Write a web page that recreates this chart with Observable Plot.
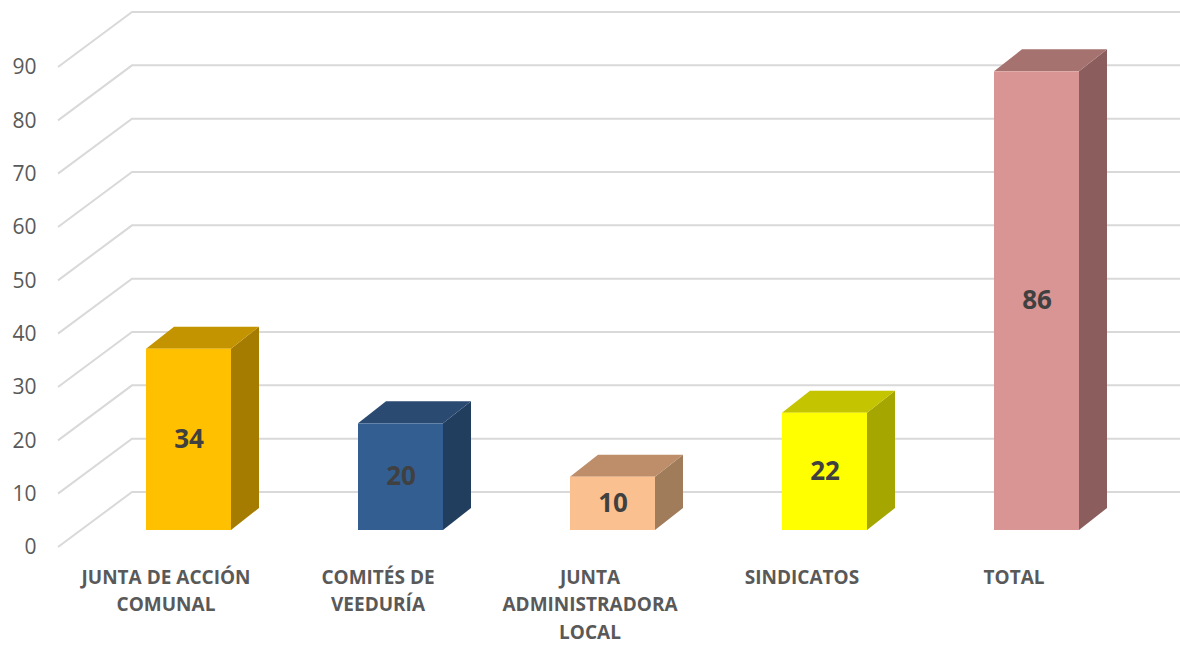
<!DOCTYPE html>
<html><head><meta charset="utf-8">
<script src="https://cdn.jsdelivr.net/npm/d3@7"></script>
<script src="https://cdn.jsdelivr.net/npm/@observablehq/plot@0.6"></script>
<style>body{margin:0;background:#fff} svg{display:block}</style>
</head><body><div id="chart"></div>
<script>
// ---- data ----
const categories = ["JUNTA DE ACCIÓN COMUNAL", "COMITÉS DE VEEDURÍA", "JUNTA ADMINISTRADORA LOCAL", "SINDICATOS", "TOTAL"];
const categoryLabels = ["JUNTA DE ACCIÓN\nCOMUNAL", "COMITÉS DE\nVEEDURÍA", "JUNTA\nADMINISTRADORA\nLOCAL", "SINDICATOS", "TOTAL"];
const values = [34, 20, 10, 22, 86];
const yTicks = [0, 10, 20, 30, 40, 50, 60, 70, 80, 90];
const frontColors = ["#FFC000", "#335E91", "#FAC090", "#FFFF00", "#D99594"];
const topColors   = ["#C49300", "#2A4A72", "#BD8E69", "#C4C400", "#A6726F"];
const sideColors  = ["#A57C00", "#223E5F", "#A07C5B", "#A6A600", "#8B5E5D"];

const data = categories.map((c, i) => ({cat: c, value: values[i], i}));

// ---- 3D styling (pixels) ----
const floorDx = 74, floorDy = -55;   // front edge -> back wall
const frontShift = 17;               // bar plane -> front edge (y)
const barDx = 28, barDy = -22;       // bar depth
const gridColor = "#D9D9D9";

const grid3d = Plot.ruleY(yTicks, {
  y: d => d,
  render(index, scales, vals, dims) {
    const g = d3.create("svg:g").attr("fill", "none").attr("stroke", gridColor).attr("stroke-width", 2);
    const xBack = dims.marginLeft;
    const xFront = xBack - floorDx;
    const xRight = dims.width - dims.marginRight;
    for (const i of index) {
      const y = vals.y[i];
      const yFront = y + frontShift;
      const yBack = yFront + floorDy;
      g.append("path").attr("d", `M${xFront},${yFront}L${xBack},${yBack}L${xRight},${yBack}`);
    }
    return g.node();
  }
});

const bars3d = Plot.barY(data, {
  x: "cat",
  y: "value",
  render(index, scales, vals) {
    const bw = scales.x.bandwidth();
    const g = d3.create("svg:g");
    for (const i of index) {
      const x0 = vals.x ? vals.x[i] : vals.x1[i];
      const x1 = x0 + bw;
      const yt = Math.min(vals.y1[i], vals.y2[i]);
      const yb = Math.max(vals.y1[i], vals.y2[i]);
      const k = data[i].i;
      g.append("path").attr("fill", sideColors[k])
        .attr("d", `M${x1},${yb}L${x1 + barDx},${yb + barDy}L${x1 + barDx},${yt + barDy}L${x1},${yt}Z`);
      g.append("path").attr("fill", topColors[k])
        .attr("d", `M${x0},${yt}L${x0 + barDx},${yt + barDy}L${x1 + barDx},${yt + barDy}L${x1},${yt}Z`);
      g.append("rect").attr("fill", frontColors[k])
        .attr("x", x0).attr("y", yt).attr("width", bw).attr("height", yb - yt);
    }
    return g.node();
  }
});

const chart = Plot.plot({
  width: 1180,
  height: 645,
  marginLeft: 132,
  marginRight: 0,
  marginTop: 50,
  marginBottom: 115,
  x: {domain: categories, range: [81.2, 1144.2], paddingInner: 0.6, paddingOuter: 0.3, axis: null},
  y: {domain: [0, 90], axis: null},
  style: {fontFamily: "'Open Sans', 'DejaVu Sans', sans-serif", background: "white", overflow: "visible"},
  marks: [
    grid3d,
    Plot.text(yTicks, {y: d => d, text: d => String(d), frameAnchor: "left", textAnchor: "end",
      dx: -96, dy: frontShift, fontSize: 21, fill: "#595959"}),
    bars3d,
    Plot.text(data, {x: "cat", y: d => d.value / 2, text: d => String(d.value),
      fontSize: 26, fontWeight: "bold", fill: "#404040"}),
    Plot.text(categories, {x: d => d, text: (d, i) => categoryLabels[i], frameAnchor: "bottom",
      lineAnchor: "top", dy: 34, dx: -23, fontSize: 19, fontWeight: "bold", fill: "#595959", lineHeight: 1.44})
  ]
});
document.getElementById("chart").appendChild(chart);
</script>
</body></html>
